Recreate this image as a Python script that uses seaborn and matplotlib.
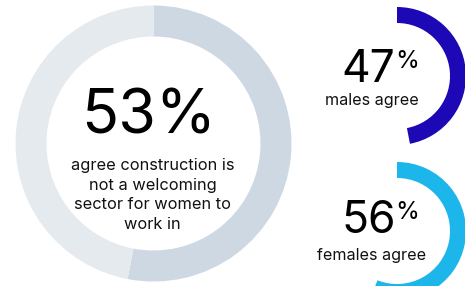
import matplotlib
matplotlib.use("Agg")
import matplotlib.pyplot as plt
import seaborn as sns

sns.set_theme(style="white")
plt.rcParams['font.family'] = ['Inter', 'DejaVu Sans']

# data
overall_pct = 53
males_pct = 47
females_pct = 56
overall_label = "agree construction is\nnot a welcoming\nsector for women to\nwork in"
males_label = "males agree"
females_label = "females agree"

overall_colors = ["#cdd8e2", "#e5eaef"]
males_color = "#1c08b5"
females_color = "#1db6ea"

W, H = 465, 286
fig = plt.figure(figsize=(W / 100, H / 100), dpi=100)
ax = fig.add_axes([0, 0, 1, 1])


def Y(y):
    return H - y


# big donut
ax.pie([overall_pct, 100 - overall_pct], colors=overall_colors,
       center=(153.5, Y(143.5)), radius=138, startangle=90, counterclock=False,
       wedgeprops=dict(width=31, linewidth=0), frame=True)

# small arcs
ax.pie([males_pct, 100 - males_pct], colors=[males_color, "none"],
       center=(397, Y(76)), radius=69, startangle=90, counterclock=False,
       wedgeprops=dict(width=16, linewidth=0), frame=True)
ax.pie([females_pct, 100 - females_pct], colors=[females_color, "none"],
       center=(397, Y(231)), radius=69, startangle=90, counterclock=False,
       wedgeprops=dict(width=16, linewidth=0), frame=True)

ax.set_xlim(0, W)
ax.set_ylim(0, H)
ax.set_aspect('equal')
ax.axis('off')

# texts
ax.text(149, Y(134), f"{overall_pct}%", ha='center', va='baseline',
        fontsize=44, color='black')
ax.text(152.5, Y(158), overall_label, ha='center', va='top', multialignment='center',
        fontsize=11.8, linespacing=1.38, color='#111111')

for pct, label, ybase, ylab in [(males_pct, males_label, 82, 105),
                                 (females_pct, females_label, 233, 260)]:
    ax.text(341, Y(ybase), f"{pct}", ha='left', va='baseline', fontsize=32, color='black')
    ax.text(395, Y(ybase - 14), "%", ha='left', va='baseline', fontsize=17.5, color='black')
    ax.text(371.5, Y(ylab), label, ha='center', va='baseline', fontsize=11.6, color='#111111')

fig.savefig("out.png", dpi=100)
